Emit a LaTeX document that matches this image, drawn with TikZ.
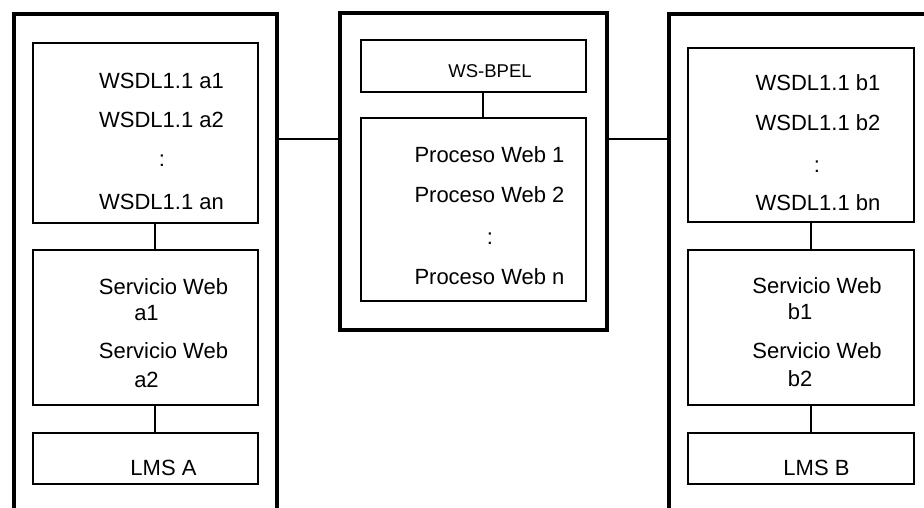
\documentclass[tikz,border=0pt]{standalone}
\usepackage{fontspec}
\setmainfont{Liberation Sans}
\usetikzlibrary{positioning}

\begin{document}
\begin{tikzpicture}[x=1pt, y=-1pt,
    outer/.style={draw, line width=4pt, inner sep=0pt, outer sep=0pt},
    box/.style={draw, line width=1.3pt, inner sep=0pt, outer sep=0pt},
    txt/.style={inner sep=0pt, anchor=base, font=\fontsize{22}{26}\selectfont},
    small/.style={txt, font=\fontsize{18.5}{22}\selectfont},
    link/.style={line width=1.3pt}]

    \useasboundingbox[fill=white] (0, 0) rectangle (924, 508);
    \clip (0, 0) rectangle (924, 508);

    % the three outer frames
    \node[outer, minimum width=263, minimum height=516] (frameA) at (145.5, 272) {};
    \node[outer, minimum width=267, minimum height=317] (frameM) at (473.5, 171.5) {};
    \node[outer, minimum width=300, minimum height=516] (frameB) at (819, 272) {};

    % side A
    \node[box, minimum width=225, minimum height=180] (wsdlA) at (145.5, 133) {};
    \node[box, minimum width=225, minimum height=155] (servA) at (145.5, 327.5) {};
    \node[box, minimum width=225, minimum height=51] (lmsA) at (145.5, 458.5) {};

    % middle
    \node[box, minimum width=225, minimum height=52] (bpel) at (473.5, 66) {};
    \node[box, minimum width=225, minimum height=183] (procM) at (473.5, 209.5) {};

    % side B
    \node[box, minimum width=226, minimum height=174] (wsdlB) at (801, 135) {};
    \node[box, minimum width=226, minimum height=155] (servB) at (801, 327.5) {};
    \node[box, minimum width=226, minimum height=51] (lmsB) at (801, 458.5) {};

    % texts
    \node[txt] (wa1) at (161.5, 89) {WSDL1.1 a1};
    \node[txt] (wa2) at (161.5, 128) {WSDL1.1 a2};
    \node[txt] (wadots) at (162, 167) {:};
    \node[txt] (wan) at (161.5, 209) {WSDL1.1 an};
    \node[txt] (sa1) at (163.5, 294) {Servicio Web};
    \node[txt] (sa1n) at (146.5, 320) {a1};
    \node[txt] (sa2) at (163.5, 358) {Servicio Web};
    \node[txt] (sa2n) at (146.5, 387) {a2};
    \node[txt] (lmsAtxt) at (163.5, 475) {LMS A};

    \node[small] (bpeltxt) at (490, 78) {WS-BPEL};
    \node[txt] (p1) at (489.5, 163) {Proceso Web 1};
    \node[txt] (p2) at (489.5, 203) {Proceso Web 2};
    \node[txt] (pdots) at (490, 244) {:};
    \node[txt] (pn) at (489.5, 284) {Proceso Web n};

    \node[txt] (wb1) at (818, 91) {WSDL1.1 b1};
    \node[txt] (wb2) at (818, 131) {WSDL1.1 b2};
    \node[txt] (wbdots) at (817, 172) {:};
    \node[txt] (wbn) at (818, 211) {WSDL1.1 bn};
    \node[txt] (sb1) at (817, 293) {Servicio Web};
    \node[txt] (sb1n) at (800, 319) {b1};
    \node[txt] (sb2) at (817, 358) {Servicio Web};
    \node[txt] (sb2n) at (800, 386) {b2};
    \node[txt] (lmsBtxt) at (816.5, 475) {LMS B};

    % connectors
    \coordinate (linkY) at (0, 139);
    \draw[link]
    (frameA.east |- linkY) edge (frameM.west |- linkY)
    (frameM.east |- linkY) edge (frameB.west |- linkY)
    ([xshift=9.5pt]wsdlA.south) edge ([xshift=9.5pt]servA.north)
    ([xshift=9.5pt]servA.south) edge ([xshift=9.5pt]lmsA.north)
    ([xshift=9.5pt]bpel.south) edge ([xshift=9.5pt]procM.north)
    ([xshift=10pt]wsdlB.south) edge ([xshift=10pt]servB.north)
    ([xshift=10pt]servB.south) edge ([xshift=10pt]lmsB.north);
\end{tikzpicture}
\end{document}
